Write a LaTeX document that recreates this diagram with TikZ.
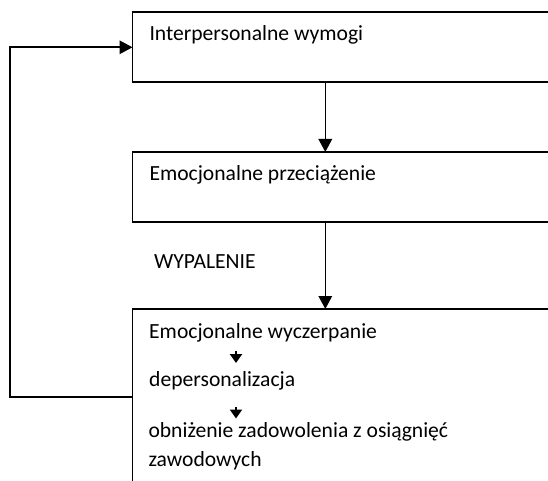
\documentclass[tikz,border=0pt]{standalone}
\usepackage{fontspec}
\setmainfont{Carlito}
\usetikzlibrary{arrows.meta}
\begin{document}
\begin{tikzpicture}[x=1pt,y=-1pt,
  box/.style={draw,line width=1.6pt,inner sep=0pt,outer sep=0pt,minimum width=427.5pt,anchor=north west},
  lbl/.style={anchor=base west,inner sep=0pt,font=\fontsize{21.6}{26}\selectfont},
  arr/.style={line width=1.6pt,-{Triangle[length=13pt,width=13.5pt]}},
  sarr/.style={line width=2.2pt,-{Triangle[length=9pt,width=12pt]}}]
\clip (0,0) rectangle (548,481);
\fill[white] (0,0) rectangle (548,481);
\node[box,minimum height=70pt] (b1) at (132.5,12) {};
\node[box,minimum height=70pt] (b2) at (132.5,152) {};
\node[box,minimum height=190pt] (b3) at (132.5,309) {};
\node[lbl] (t1) at (149.3,41) {Interpersonalne wymogi};
\node[lbl] (t2) at (149.3,180.5) {Emocjonalne przeciążenie};
\node[lbl] (t0) at (154,268) {WYPALENIE};
\node[lbl] (t3) at (149,338.3) {Emocjonalne wyczerpanie};
\node[lbl] (t4) at (149,386.5) {depersonalizacja};
\node[lbl] (t5) at (148.3,437.3) {obniżenie zadowolenia z osiągnięć};
\node[lbl] (t6) at (148.3,466.7) {zawodowych};
\coordinate (ax) at (325.3,0);
\coordinate (fx) at (10,0);
\coordinate (fin) at (0,397);
\coordinate (fout) at (0,47.3);
\coordinate (s1a) at (236,350.5);
\coordinate (s1b) at (236,363);
\coordinate (s2a) at (236,406.5);
\coordinate (s2b) at (236,418.5);
\draw[arr] (b1.south -| ax) -- (b2.north -| ax);
\draw[arr] (b2.south -| ax) -- (b3.north -| ax);
\draw[arr] (b3.west |- fin) -| (fx |- fout) -- (b1.west |- fout);
\draw[sarr] (s1a) -- (s1b);
\draw[sarr] (s2a) -- (s2b);
\end{tikzpicture}
\end{document}
